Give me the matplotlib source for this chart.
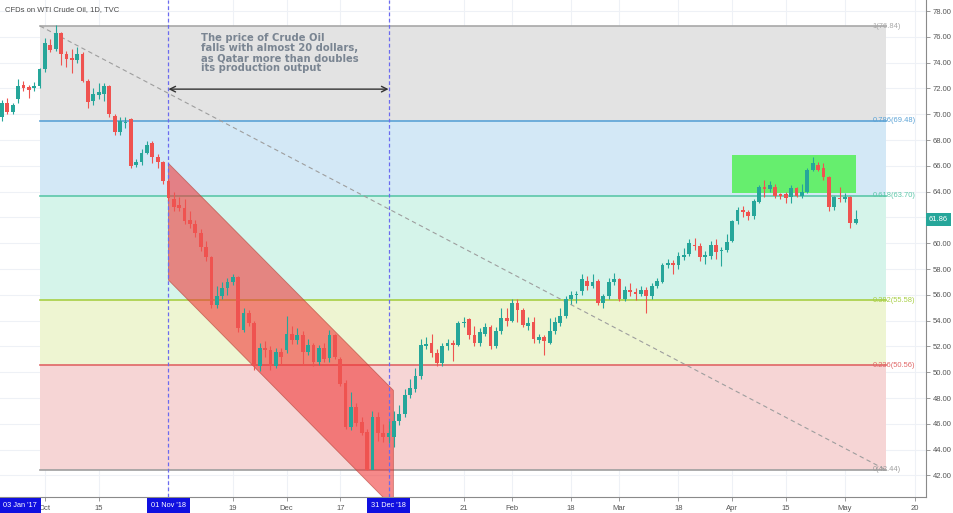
import matplotlib.pyplot as plt
import matplotlib.patches as mpatches
import numpy as np

plt.rcParams["font.family"] = ["Liberation Sans", "DejaVu Sans"]

# daily candles, index 0 = first visible session (mid Sep 2018)
opens = [69.8, 70.9, 70.2, 71.2, 72.3, 72.1, 72.0, 72.2, 73.5, 75.4,
         75.1, 76.3, 74.7, 74.4, 74.2, 74.7, 72.6, 71.0, 71.5, 71.6,
         72.2, 69.9, 68.6, 69.3, 69.6, 66.1, 66.3, 67.0, 67.8, 66.7,
         66.3, 64.8, 63.4, 63.0, 62.7, 61.8, 61.5, 60.8, 59.7, 58.9,
         55.2, 55.9, 56.5, 57.0, 57.4, 53.3, 54.6, 53.8, 50.5, 51.9,
         51.7, 50.5, 51.6, 51.7, 53.0, 52.5, 52.9, 51.6, 52.1, 50.8,
         51.9, 51.1, 52.9, 51.0, 49.2, 45.75, 47.3, 46.15, 45.4, 42.4,
         46.5, 45.3, 45.0, 45.0, 46.2, 46.8, 48.2, 48.7, 49.7, 52.0,
         52.3, 51.5, 50.7, 52.0, 52.3, 52.1, 53.8, 54.1, 52.9, 52.3,
         53.0, 53.5, 52.0, 53.2, 54.2, 54.0, 55.4, 54.8, 53.6, 53.9,
         52.5, 52.7, 52.3, 53.2, 53.8, 54.4, 55.7, 56.0, 56.3, 57.1,
         56.7, 57.1, 55.4, 55.9, 57.0, 57.2, 55.7, 56.4, 56.2, 56.1,
         56.4, 55.9, 56.7, 57.0, 58.3, 58.5, 58.3, 58.9, 59.2, 59.9,
         59.8, 58.9, 59.0, 59.9, 59.4, 59.5, 60.2, 61.7, 62.6, 62.4,
         62.1, 63.2, 64.4, 64.2, 64.4, 63.8, 63.8, 63.6, 64.3, 63.7,
         64.0, 65.7, 66.1, 65.8, 65.1, 62.8, 63.5, 63.4, 63.6, 61.6]
highs = [71.1, 71.3, 70.9, 72.7, 72.6, 72.3, 72.5, 73.6, 75.9, 75.8,
         76.9, 76.4, 74.9, 75.1, 75.2, 74.8, 72.7, 72.0, 72.4, 72.4,
         72.3, 70.0, 69.8, 69.8, 69.7, 66.5, 67.3, 67.9, 67.9, 66.9,
         66.4, 65.0, 64.0, 63.6, 63.4, 62.5, 61.8, 61.1, 60.2, 59.0,
         56.7, 57.0, 57.3, 57.6, 57.5, 55.0, 54.8, 54.0, 52.3, 52.4,
         52.0, 51.9, 51.9, 54.4, 53.6, 53.4, 53.2, 52.6, 52.3, 52.1,
         52.3, 53.3, 53.0, 51.2, 49.4, 48.5, 47.6, 46.5, 45.6, 47.0,
         46.9, 46.0, 46.2, 47.0, 47.5, 48.7, 49.5, 50.3, 52.6, 52.7,
         53.0, 51.8, 52.3, 52.6, 52.5, 54.0, 54.3, 54.2, 53.6, 53.4,
         53.8, 53.7, 53.5, 55.0, 55.0, 55.7, 55.7, 55.0, 54.3, 54.3,
         53.0, 52.9, 54.2, 54.3, 55.0, 55.9, 56.3, 56.3, 57.6, 57.5,
         57.6, 57.2, 56.1, 57.3, 57.7, 57.3, 56.7, 56.9, 56.5, 56.7,
         56.6, 56.9, 57.3, 58.5, 58.8, 58.7, 59.3, 59.6, 60.3, 60.4,
         60.0, 59.4, 60.2, 60.3, 59.7, 60.7, 61.8, 62.8, 62.9, 62.6,
         63.4, 64.5, 64.9, 64.8, 64.6, 63.9, 64.0, 64.5, 64.4, 64.6,
         65.8, 66.7, 66.3, 66.2, 65.2, 63.7, 64.4, 63.9, 63.7, 62.6]
lows = [69.5, 70.0, 70.0, 70.9, 71.8, 71.3, 71.8, 72.0, 73.3, 74.8,
        74.9, 73.8, 73.7, 73.2, 74.0, 72.5, 70.5, 70.7, 71.2, 71.0,
        69.8, 68.4, 68.4, 68.9, 65.8, 65.9, 66.1, 66.9, 66.2, 65.8,
        64.6, 63.3, 62.5, 62.5, 61.5, 61.2, 60.5, 59.4, 58.6, 55.0,
        55.0, 55.7, 56.0, 56.8, 53.1, 53.1, 53.6, 50.2, 50.1, 51.2,
        50.2, 50.3, 50.6, 51.5, 52.2, 52.2, 50.6, 51.3, 50.5, 50.6,
        50.8, 50.8, 51.0, 48.9, 45.6, 45.5, 45.8, 45.1, 42.4, 42.5,
        44.7, 44.6, 44.5, 44.2, 45.9, 46.5, 48.0, 48.5, 49.5, 51.8,
        51.2, 50.5, 50.5, 51.7, 50.9, 52.0, 53.5, 52.6, 52.0, 52.0,
        52.8, 51.8, 51.9, 53.0, 53.6, 53.9, 53.9, 53.5, 53.3, 52.3,
        52.3, 51.3, 52.2, 53.0, 53.6, 54.2, 55.3, 55.4, 56.0, 56.4,
        56.5, 55.2, 55.0, 55.7, 56.8, 55.5, 55.5, 55.9, 55.6, 55.9,
        54.6, 55.7, 56.5, 56.9, 58.1, 57.6, 58.0, 58.7, 59.0, 59.5,
        58.6, 58.4, 58.8, 58.8, 58.2, 59.3, 60.1, 61.5, 62.0, 61.8,
        61.9, 63.1, 63.6, 64.0, 63.5, 63.4, 63.1, 63.1, 63.6, 63.5,
        63.9, 65.6, 65.6, 64.9, 62.5, 62.6, 63.2, 63.2, 61.2, 61.5]
closes = [70.9, 70.2, 70.7, 72.2, 72.0, 71.9, 72.2, 73.5, 75.5, 75.0,
          76.3, 74.7, 74.3, 74.2, 74.7, 72.6, 70.95, 71.6, 71.7, 72.2,
          70.0, 68.6, 69.5, 69.4, 66.0, 66.3, 67.0, 67.6, 66.7, 66.3,
          64.8, 63.5, 62.8, 62.7, 61.7, 61.5, 60.8, 59.7, 58.9, 55.2,
          55.9, 56.5, 57.0, 57.4, 53.4, 54.6, 53.8, 50.5, 51.9, 51.7,
          50.5, 51.6, 51.2, 53.0, 52.5, 52.9, 51.6, 52.1, 50.8, 51.9,
          51.0, 52.9, 51.2, 49.1, 45.75, 47.3, 46.1, 45.3, 42.4, 46.5,
          45.3, 45.0, 45.3, 46.2, 46.8, 48.2, 48.8, 49.7, 52.1, 52.2,
          51.5, 50.7, 52.0, 52.3, 52.1, 53.8, 53.9, 52.9, 52.3, 53.1,
          53.5, 52.0, 53.2, 54.2, 54.0, 55.4, 54.8, 53.7, 53.8, 52.6,
          52.7, 52.4, 53.2, 53.9, 54.4, 55.7, 56.0, 56.1, 57.2, 56.7,
          57.0, 55.4, 55.9, 57.0, 57.2, 55.7, 56.4, 56.2, 56.1, 56.4,
          55.9, 56.7, 57.1, 58.3, 58.5, 58.3, 59.0, 59.1, 60.0, 59.8,
          58.9, 59.1, 59.9, 59.3, 59.5, 60.1, 61.7, 62.6, 62.4, 62.1,
          63.3, 64.4, 64.2, 64.5, 63.7, 63.7, 63.5, 64.3, 63.7, 64.0,
          65.7, 66.2, 65.7, 65.1, 62.8, 63.6, 63.4, 63.6, 61.6, 61.86]

# x-axis ticks (session index) and labels
tick_pos = [8, 18, 43, 53, 63, 86, 95, 106, 115, 126, 136, 146, 157, 170]
tick_labels = ["Oct", "15", "19", "Dec", "17", "21", "Feb", "18", "Mar", "18",
               "Apr", "15", "May", "20"]
marker_pos = [3.4, 31, 72]
marker_labels = ["03 Jan '17", "01 Nov '18", "31 Dec '18"]

# price axis (62.00 sits under the last-price tag)
price_ticks = [42, 44, 46, 48, 50, 52, 54, 56, 58, 60, 64, 66, 68, 70, 72, 74, 76, 78]

# fibonacci retracement
fib_ratios = ["1", "0.786", "0.618", "0.382", "0.236", "0"]
fib_prices = [76.84, 69.48, 63.70, 55.58, 50.56, 42.44]
fib_line_colors = ["#a8a8a8", "#5ba3d6", "#5cc7a8", "#a8cf45", "#e06666", "#9e9e9e"]
fib_fill_colors = ["#e3e3e3", "#d3e8f6", "#d5f4ea", "#eef5d2", "#f6d5d5"]
fib_start, fib_end = 7.1, 164.6

last_price = 61.86
note = ("The price of Crude Oil\nfalls with almost 20 dollars,\n"
        "as Qatar more than doubles\nits production output")

fig = plt.figure(figsize=(9.54, 5.13), dpi=100)
ax = fig.add_axes([0, 16 / 513, 926 / 954, 497 / 513])
ax.set_xlim(-0.37, 172.1)
ax.set_ylim(40.33, 78.86)

# grid
for p in np.arange(42, 79, 2):
    ax.axhline(p, color="#eef1f6", lw=0.8, zorder=0)
for t in tick_pos + [31, 72]:
    ax.axvline(t, color="#eef1f6", lw=0.8, zorder=0)

# fib bands
for i in range(len(fib_fill_colors)):
    ax.fill_between([fib_start, fib_end], fib_prices[i + 1], fib_prices[i],
                    color=fib_fill_colors[i], lw=0, zorder=1)
for r, p, c in zip(fib_ratios, fib_prices, fib_line_colors):
    ax.plot([fib_start, fib_end], [p, p], color=c, lw=1.2, zorder=2)
    ax.text(162.2, p, f"{r}({p:.2f})", color=c, fontsize=5.4, va="center",
            ha="left", zorder=6)
ax.plot([fib_start, fib_end], [fib_prices[0], fib_prices[-1]], color="#9e9e9e",
        lw=0.8, ls=(0, (4, 3)), zorder=2)

# red descending channel
channel = mpatches.Polygon([(31, 66.2), (72.9, 48.6), (72.9, 39.5), (31, 57.15)],
                           closed=True, facecolor="#f03535", alpha=0.58,
                           edgecolor="#b03a2e", lw=0.6, zorder=3)
ax.add_patch(channel)

# green resistance box
ax.add_patch(mpatches.Rectangle((135.9, 63.9), 23.1, 2.94, facecolor="#66ee6e",
                                edgecolor="none", zorder=3))

# vertical markers
for m in [31, 72]:
    ax.axvline(m, color="#6b6bf0", lw=0.9, ls=(0, (3, 2)), zorder=4)

ax.annotate("", xy=(31, 71.95), xytext=(72, 71.95),
            arrowprops=dict(arrowstyle="<->", color="#333333", lw=1.0,
                            shrinkA=0, shrinkB=0), zorder=5)
ax.text(37.1, 76.3, note, fontsize=7.2, fontweight="bold", color="#7a8592",
        family="DejaVu Sans", va="top", ha="left", linespacing=1.0, zorder=6)

# candles
idx = np.arange(len(closes))
o = np.array(opens)
c = np.array(closes)
up = c >= o
colors = np.where(up, "#26a69a", "#ef5350")
ax.vlines(idx, lows, highs, colors=colors, lw=0.8, zorder=7)
body = np.maximum(np.abs(c - o), 0.1)
ax.bar(idx, body, bottom=np.minimum(o, c), width=0.7, color=colors, zorder=8)

# axes styling
for s in ["top", "left"]:
    ax.spines[s].set_visible(False)
for s in ["bottom", "right"]:
    ax.spines[s].set_color("#8a8a8a")
    ax.spines[s].set_linewidth(0.8)
ax.yaxis.tick_right()
ax.set_yticks(price_ticks)
ax.set_yticklabels([f"{v:.2f}" for v in price_ticks])
ax.tick_params(axis="y", labelsize=5.5, colors="#8a8a8a", labelcolor="#555555",
               length=3, width=0.6, pad=2)
ax.set_xticks(tick_pos)
ax.set_xticklabels(tick_labels)
ax.tick_params(axis="x", labelsize=5.5, colors="#8a8a8a", labelcolor="#555555",
               length=3, width=0.6, pad=2.5)

for m, lab in zip(marker_pos, marker_labels):
    ax.text(m, -0.01, lab, transform=ax.get_xaxis_transform(), fontsize=5.3,
            color="white", ha="center", va="top", zorder=10, clip_on=False,
            bbox=dict(boxstyle="square,pad=0.5", facecolor="#1010e0",
                      edgecolor="none"))

ax.text(1.003, last_price, f"{last_price:.2f}", transform=ax.get_yaxis_transform(),
        fontsize=5.5, color="white", ha="left", va="center", clip_on=False,
        bbox=dict(boxstyle="square,pad=0.4", facecolor="#26a69a", edgecolor="none"))

fig.text(5 / 954, 1 - 10 / 513, "CFDs on WTI Crude Oil, 1D, TVC", fontsize=5.5,
         color="#4a4a4a", va="center", ha="left")

fig.savefig("out.png", dpi=100)
